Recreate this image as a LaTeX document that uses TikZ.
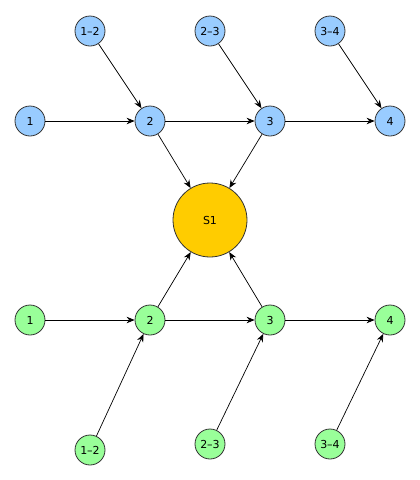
\documentclass[tikz,border=0pt]{standalone}
\usepackage{fontspec}
\setmainfont{DejaVu Sans}
\usetikzlibrary{arrows.meta}
\definecolor{bluefill}{HTML}{99CCFF}
\definecolor{greenfill}{HTML}{99FF99}
\definecolor{goldfill}{HTML}{FFCC00}
\begin{document}
\begin{tikzpicture}[x=1pt,y=-1pt,
  small/.style={circle,draw=black!80,line width=0.8pt,minimum size=30pt,inner sep=0pt,font=\fontsize{11}{13}\selectfont},
  bnode/.style={small,fill=bluefill},
  gnode/.style={small,fill=greenfill},
  snode/.style={circle,draw=black!80,line width=0.8pt,fill=goldfill,minimum size=74pt,inner sep=0pt,font=\fontsize{11}{13}\selectfont},
  arr/.style={-{Stealth[length=8pt,width=6.5pt]},line width=0.7pt}]
\useasboundingbox (0,0) rectangle (420,480);
% blue
\node[bnode] (b12) at (90,31) {1–2};
\node[bnode] (b23) at (210,31) {2–3};
\node[bnode] (b34) at (330,31) {3–4};
\node[bnode] (b1) at (30,121) {1};
\node[bnode] (b2) at (150,121) {2};
\node[bnode] (b3) at (270,121) {3};
\node[bnode] (b4) at (390,121) {4};
% center
\node[snode] (s1) at (210,220) {S1};
% green
\node[gnode] (g1) at (30,320) {1};
\node[gnode] (g2) at (150,320) {2};
\node[gnode] (g3) at (270,320) {3};
\node[gnode] (g4) at (390,320) {4};
\node[gnode] (g12) at (90,450) {1–2};
\node[gnode] (g23) at (210,444) {2–3};
\node[gnode] (g34) at (330,444) {3–4};
% edges
\draw[arr] (b1) -- (b2);
\draw[arr] (b2) -- (b3);
\draw[arr] (b3) -- (b4);
\draw[arr] (b12) -- (b2);
\draw[arr] (b23) -- (b3);
\draw[arr] (b34) -- (b4);
\draw[arr] (b2) -- (s1);
\draw[arr] (b3) -- (s1);
\draw[arr] (g1) -- (g2);
\draw[arr] (g2) -- (g3);
\draw[arr] (g3) -- (g4);
\draw[arr] (g12) -- (g2);
\draw[arr] (g23) -- (g3);
\draw[arr] (g34) -- (g4);
\draw[arr] (g2) -- (s1);
\draw[arr] (g3) -- (s1);
\end{tikzpicture}
\end{document}
